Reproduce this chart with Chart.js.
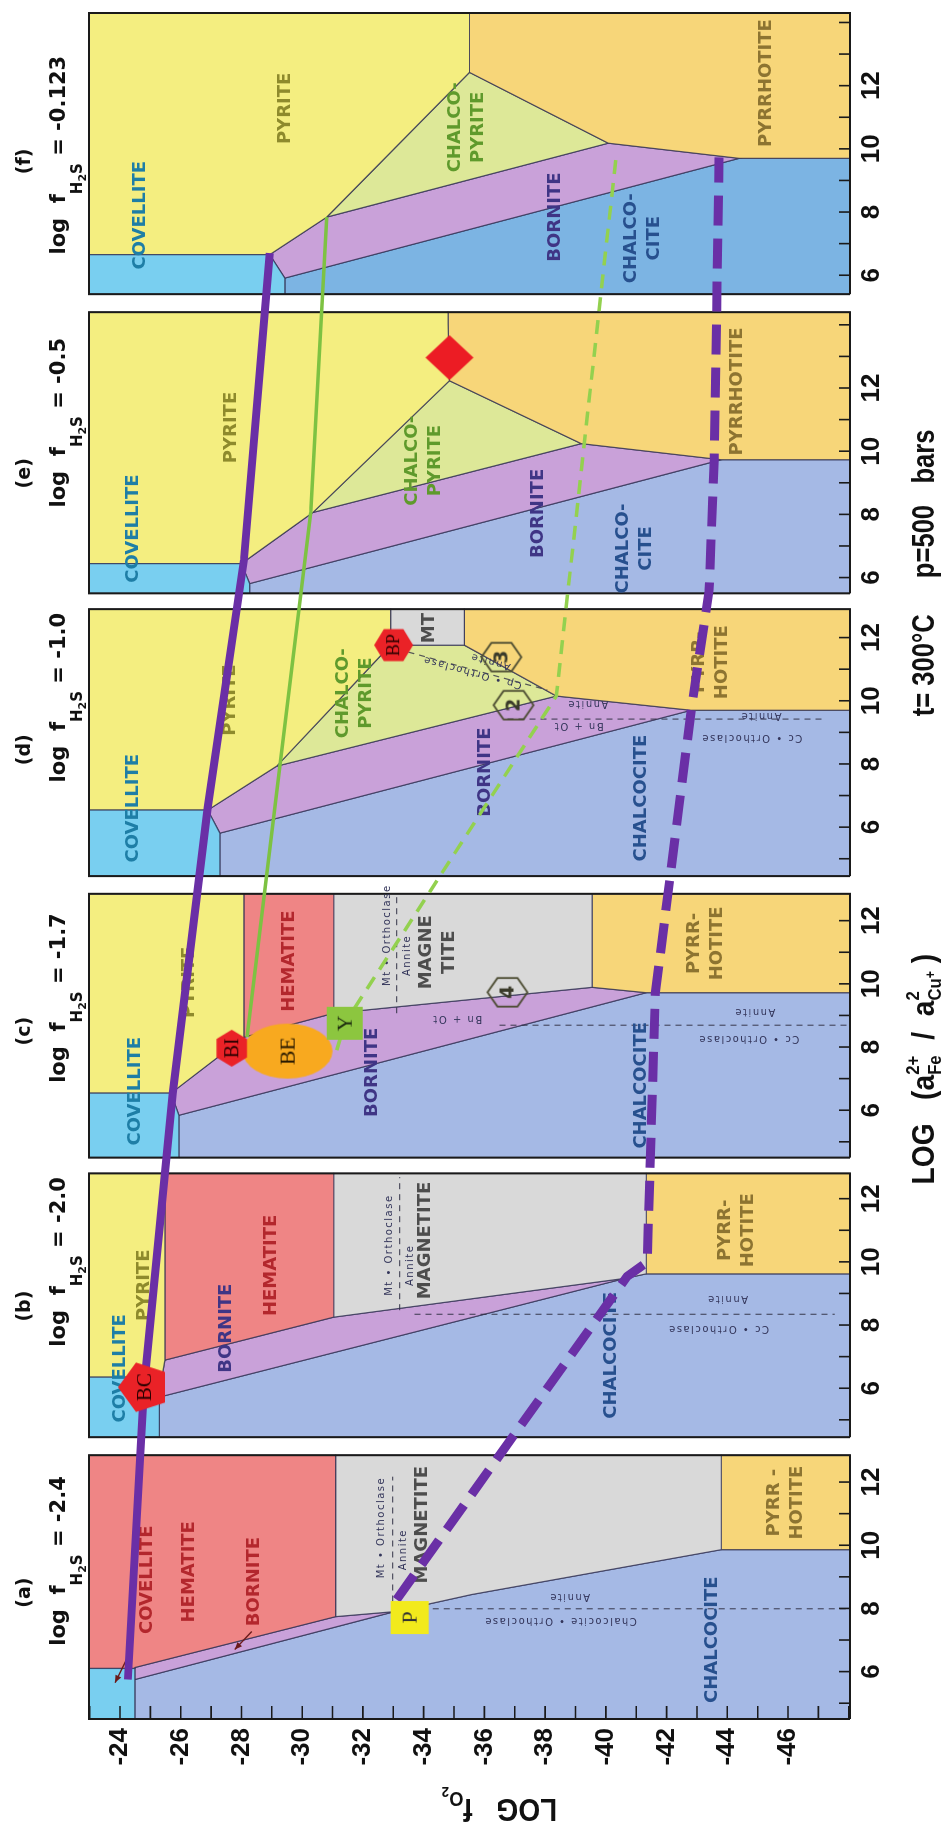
<!DOCTYPE html>
<html>
<head>
<meta charset="utf-8">
<title>Cu-Fe-S-O phase diagrams, t = 300°C</title>
<script src="https://cdn.jsdelivr.net/npm/chart.js@4.4.1/dist/chart.umd.min.js"></script>
<style>
  html, body { margin: 0; padding: 0; background: #fff; }
  body { width: 944px; height: 1828px; overflow: hidden; position: relative; }
  /* the figure is drawn landscape and turned a quarter turn, as in the scan */
  #sheet {
    position: absolute; left: 0; top: 0;
    width: 1828px; height: 944px;
    transform-origin: 0 0;
    transform: translateY(1828px) rotate(-90deg);
  }
</style>
</head>
<body>
<div id="sheet"><canvas id="diagram" width="1828" height="944"></canvas></div>
<script>
'use strict';

/* ============================================================
   data
   x : log (aFe2+ / a2Cu+)   y : log fO2
   ============================================================ */
var PANEL_TAGS = ['(a)', '(b)', '(c)', '(d)', '(e)', '(f)'];
var LOG_FH2S = ['-2.4', '-2.0', '-1.7', '-1.0', '-0.5', '-0.123'];

/* span of log(aFe/aCu2) shown in each panel */
var RATIO_MIN = [4.5, 4.45, 4.5, 4.45, 5.5, 5.4];
var RATIO_MAX = [12.85, 12.8, 12.85, 12.9, 14.4, 14.3];
var RATIO_LABELS = [6, 8, 10, 12];

/* log fO2 axis */
var FO2_MIN = -48.04;
var FO2_MAX = -22.98;
var FO2_LABELS = [-24, -26, -28, -30, -32, -34, -36, -38, -40, -42, -44, -46];

/* stability fields, one polygon per panel (null = field absent) */
var COVELLITE = [
  [[4.5, -22.9], [6.1, -22.9], [6.1, -24.49], [4.5, -24.49]],
  [[4.45, -22.9], [6.35, -22.9], [6.35, -25.38], [5.72, -25.3], [4.45, -25.3]],
  [[4.5, -22.9], [6.54, -22.9], [6.54, -25.68], [5.84, -25.94], [4.5, -25.94]],
  [[4.45, -22.9], [6.54, -22.9], [6.54, -26.89], [5.81, -27.29], [4.45, -27.29]],
  [[5.5, -22.9], [6.44, -22.9], [6.44, -28.0], [5.81, -28.27], [5.5, -28.27]],
  [[5.4, -22.9], [6.65, -22.9], [6.65, -28.93], [5.91, -29.43], [5.4, -29.43]]
];
var PYRITE = [
  null,
  [[6.35, -22.9], [12.8, -22.9], [12.8, -25.48], [6.89, -25.48], [6.35, -25.38]],
  [[6.54, -22.9], [12.85, -22.9], [12.85, -28.08], [8.31, -28.08], [6.54, -25.68]],
  [[6.54, -22.9], [12.9, -22.9], [12.9, -32.91], [11.76, -32.91], [7.93, -29.16], [6.54, -26.89]],
  [[6.44, -22.9], [14.4, -22.9], [14.4, -34.8], [12.23, -34.85], [8.06, -30.35], [6.44, -28.0]],
  [[6.65, -22.9], [14.3, -22.9], [14.3, -35.51], [12.42, -35.51], [7.84, -30.81], [6.65, -28.93]]
];
var HEMATITE = [
  [[6.1, -22.9], [12.85, -22.9], [12.85, -31.1], [7.74, -31.1], [6.13, -24.49], [6.1, -24.49]],
  [[6.89, -25.48], [12.8, -25.48], [12.8, -31.04], [8.25, -31.04]],
  [[8.31, -28.08], [12.85, -28.08], [12.85, -31.04], [9.07, -31.04]],
  null, null, null
];
var MAGNETITE = [
  [[7.74, -31.1], [12.85, -31.1], [12.85, -43.8], [9.86, -43.8], [8.44, -35.58], [7.9, -33.04]],
  [[8.25, -31.04], [12.8, -31.04], [12.8, -41.33], [9.62, -41.33], [9.48, -40.64]],
  [[9.07, -31.04], [12.85, -31.04], [12.85, -39.55], [9.89, -39.55]],
  [[11.76, -32.91], [12.9, -32.91], [12.9, -35.34], [11.76, -35.34]],
  null, null
];
var PYRRHOTITE = [
  [[9.86, -43.8], [12.85, -43.8], [12.85, -48.1], [9.86, -48.1]],
  [[9.62, -41.33], [12.8, -41.33], [12.8, -48.1], [9.62, -48.1]],
  [[9.89, -39.55], [12.85, -39.55], [12.85, -48.1], [9.72, -48.1], [9.72, -41.33]],
  [[11.76, -35.34], [12.9, -35.34], [12.9, -48.1], [9.7, -48.1], [9.7, -42.81], [10.15, -38.37]],
  [[12.23, -34.85], [14.4, -34.8], [14.4, -48.1], [9.73, -48.1], [9.73, -43.8], [10.24, -39.19]],
  [[12.42, -35.51], [14.3, -35.51], [14.3, -48.1], [9.7, -48.1], [9.7, -44.39], [10.18, -40.08]]
];
var CHALCOPYRITE = [
  null, null, null,
  [[7.93, -29.16], [11.76, -32.91], [11.76, -35.34], [10.15, -38.37]],
  [[8.06, -30.35], [12.23, -34.85], [10.24, -39.19]],
  [[7.84, -30.81], [12.42, -35.51], [10.18, -40.08]]
];
var BORNITE = [
  [[5.75, -24.49], [6.13, -24.49], [7.74, -31.1], [7.9, -33.04]],
  [[5.72, -25.3], [6.35, -25.38], [6.89, -25.48], [8.25, -31.04], [9.48, -40.64]],
  [[5.84, -25.94], [6.54, -25.68], [8.31, -28.08], [9.07, -31.04], [9.89, -39.55], [9.72, -41.33]],
  [[5.81, -27.29], [6.54, -26.89], [7.93, -29.16], [10.15, -38.37], [9.7, -42.81]],
  [[5.81, -28.27], [6.44, -28.0], [8.06, -30.35], [10.24, -39.19], [9.73, -43.8]],
  [[5.91, -29.43], [6.65, -28.93], [7.84, -30.81], [10.18, -40.08], [9.7, -44.39]]
];
var CHALCOCITE = [
  [[4.5, -24.49], [5.75, -24.49], [7.9, -33.04], [8.44, -35.58], [9.86, -43.8], [9.86, -48.1], [4.5, -48.1]],
  [[4.45, -25.3], [5.72, -25.3], [9.48, -40.64], [9.62, -41.33], [9.62, -48.1], [4.45, -48.1]],
  [[4.5, -25.94], [5.84, -25.94], [9.72, -41.33], [9.72, -48.1], [4.5, -48.1]],
  [[4.45, -27.29], [5.81, -27.29], [9.7, -42.81], [9.7, -48.1], [4.45, -48.1]],
  [[5.5, -28.27], [5.81, -28.27], [9.73, -43.8], [9.73, -48.1], [5.5, -48.1]],
  [[5.4, -29.43], [5.91, -29.43], [9.7, -44.39], [9.7, -48.1], [5.4, -48.1]]
];

/* paths traced across the panels: [panel, ratio, log fO2] */
var PATH_PURPLE = [[0, 5.75, -24.26], [1, 6.03, -24.79], [2, 6.54, -25.74], [3, 6.63, -26.89], [4, 6.54, -28.08], [5, 6.70, -28.93]];
var PATH_PURPLE_DASHED = [[0, 8.28, -33.11], [1, 9.54, -40.70], [1, 9.99, -41.36], [2, 9.70, -41.63], [3, 9.70, -42.81], [4, 5.59, -43.40], [4, 9.73, -43.57], [5, 9.73, -43.73]];
var PATH_GREEN = [[2, 8.31, -28.18], [3, 7.90, -29.26], [4, 8.06, -30.28], [5, 7.84, -30.81]];
var PATH_GREEN_DASHED = [[2, 7.90, -31.14], [2, 8.75, -31.40], [3, 10.15, -38.37], [4, 10.24, -39.29], [5, 9.77, -40.34]];

/* thin dashed reaction lines: [panel, ratio1, fO2 1, ratio2, fO2 2] */
var REACTION_LINES = [
  [0, 8.22, -32.98, 12.17, -32.98],
  [0, 7.99, -34.3, 7.99, -48.1],
  [1, 8.47, -33.21, 12.68, -33.21],
  [1, 8.34, -33.7, 8.34, -47.54],
  [2, 9.07, -33.11, 12.87, -33.11],
  [2, 8.69, -36.5, 8.69, -48.1],
  [3, 11.54, -33.5, 10.34, -38.07],
  [3, 9.42, -36.76, 9.42, -47.15]
];

/* symbols: [panel, ratio, log fO2] */
var MARK_P = [0, 7.71, -33.54];
var MARK_BC = [1, 6.03, -24.79];
var MARK_BI = [2, 7.96, -27.68];
var MARK_BE = [2, 7.87, -29.52];
var MARK_Y = [2, 8.75, -31.40];
var MARK_BP = [3, 11.76, -33.01];
var MARK_DIAMOND = [4, 12.96, -34.85];
var MARK_NUMBERS = [[2, 9.73, -36.76, '4'], [3, 9.86, -36.96, '2'], [3, 11.38, -36.56, '3']];

/* field names: [panel, ratio, log fO2, lines, field] */
var FIELD_LABELS = [
  [0, 8.91, -24.89, ['COVELLITE'], 'HM'],
  [0, 9.16, -26.30, ['HEMATITE'], 'HM'],
  [0, 8.85, -28.41, ['BORNITE'], 'HM'],
  [0, 10.65, -33.96, ['MAGNETITE'], 'MT'],
  [0, 7.01, -43.5, ['CHALCOCITE'], 'CC'],
  [0, 11.35, -45.93, ['PYRR -', 'HOTITE'], 'PO'],
  [1, 6.63, -24.0, ['COVELLITE'], 'COV'],
  [1, 9.26, -24.79, ['PYRITE'], 'PY'],
  [1, 7.9, -27.49, ['BORNITE'], 'BN'],
  [1, 9.89, -28.97, ['HEMATITE'], 'HM'],
  [1, 10.68, -34.06, ['MAGNETITE'], 'MT'],
  [1, 7.04, -40.18, ['CHALCOCITE'], 'CC'],
  [1, 11.0, -44.32, ['PYRR-', 'HOTITE'], 'PO'],
  [2, 6.6, -24.49, ['COVELLITE'], 'COV'],
  [2, 10.05, -26.30, ['PYRITE'], 'PY'],
  [2, 10.72, -29.59, ['HEMATITE'], 'HM'],
  [2, 11.0, -34.46, ['MAGNE', 'TITE'], 'MT'],
  [2, 7.2, -32.32, ['BORNITE'], 'BN'],
  [2, 6.79, -41.17, ['CHALCOCITE'], 'CC'],
  [2, 11.28, -43.3, ['PYRR-', 'HOTITE'], 'PO'],
  [3, 6.6, -24.43, ['COVELLITE'], 'COV'],
  [3, 10.02, -27.62, ['PYRITE'], 'PY'],
  [3, 10.24, -31.73, ['CHALCO-', 'PYRITE'], 'CP'],
  [3, 12.30, -34.19, ['MT'], 'MT'],
  [3, 7.74, -36.04, ['BORNITE'], 'BN'],
  [3, 6.92, -41.17, ['CHALCOCITE'], 'CC'],
  [3, 11.22, -43.47, ['PYRR-', 'HOTITE'], 'PO'],
  [4, 7.55, -24.43, ['COVELLITE'], 'COV'],
  [4, 10.75, -27.68, ['PYRITE'], 'PY'],
  [4, 9.70, -34.0, ['CHALCO-', 'PYRITE'], 'CP'],
  [4, 8.03, -37.78, ['BORNITE'], 'BN'],
  [4, 6.92, -40.97, ['CHALCO-', 'CITE'], 'CC'],
  [4, 11.89, -44.32, ['PYRRHOTITE'], 'PO'],
  [5, 7.90, -24.66, ['COVELLITE'], 'COV'],
  [5, 11.28, -29.43, ['PYRITE'], 'PY'],
  [5, 10.68, -35.43, ['CHALCO-', 'PYRITE'], 'CP'],
  [5, 7.84, -38.34, ['BORNITE'], 'BN'],
  [5, 7.17, -41.23, ['CHALCO-', 'CITE'], 'CC'],
  [5, 12.08, -45.28, ['PYRRHOTITE'], 'PO']
];

/* small reaction names: [panel, ratio, log fO2, text, angle] */
var REACTION_LABELS = [
  [0, 10.56, -32.62, 'Mt • Orthoclase', 0],
  [0, 9.86, -33.32, 'Annite', 0],
  [0, 7.6, -38.5, 'Chalcocite • Orthoclase', -90],
  [0, 8.37, -38.8, 'Annite', -90],
  [1, 10.53, -32.86, 'Mt • Orthoclase', 0],
  [1, 9.89, -33.56, 'Annite', 0],
  [1, 7.9, -43.7, 'Cc • Orthoclase', -90],
  [1, 8.85, -44.0, 'Annite', -90],
  [2, 11.54, -32.8, 'Mt • Orthoclase', 0],
  [2, 10.9, -33.46, 'Annite', 0],
  [2, 8.9, -35.1, 'Bn + Ot', -90],
  [2, 8.28, -44.7, 'Cc • Orthoclase', -90],
  [2, 9.13, -44.9, 'Annite', -90],
  [3, 10.9, -35.6, 'Cp • Orthoclase', -75],
  [3, 11.25, -36.2, 'Annite', -75],
  [3, 9.2, -39.1, 'Bn + Ot', -90],
  [3, 9.9, -39.4, 'Annite', -90],
  [3, 8.85, -44.8, 'Cc • Orthoclase', -90],
  [3, 9.54, -45.1, 'Annite', -90]
];

/* pointer arrows in panel (a): [panel, from ratio, from fO2, to ratio, to fO2] */
var POINTER_ARROWS = [
  [0, 6.6, -24.33, 5.65, -23.84],
  [0, 7.27, -28.34, 6.7, -27.78]
];

/* where the panel titles sit, in each panel's own ratio units */
var TAG_AT = [8.5, 8.6, 8.5, 8.45, 9.3, 9.6];
var TITLE_AT = [9.5, 10.0, 9.55, 10.1, 10.9, 9.8];

/* ============================================================
   layout: the six panels share one horizontal scale
   ============================================================ */
var PANEL_SHIFT = [-4.5, 4.47, 13.27, 22.23, 30.13, 39.7];
var X_SPAN = RATIO_MAX[5] + PANEL_SHIFT[5];

var SANS = '"DejaVu Sans", "Liberation Sans", sans-serif';
var BLOCK = '"Liberation Sans", "DejaVu Sans", sans-serif';
var SERIF = '"Liberation Serif", "DejaVu Serif", serif';

var FIELD_STYLE = {
  COV: { fill: '#79cff0', ink: '#1e7ea6' },
  PY:  { fill: '#f4ee80', ink: '#8e8a2c' },
  HM:  { fill: '#ef8585', ink: '#b3272d' },
  MT:  { fill: '#d9d9d9', ink: '#4d4d4d' },
  PO:  { fill: '#f7d679', ink: '#8d7431' },
  CP:  { fill: '#dde898', ink: '#5f9a2c' },
  BN:  { fill: '#c9a1d9', ink: '#3f3585' },
  CC:  { fill: '#a5b9e5', ink: '#27508e' }
};
var CHALCOCITE_F = '#7cb4e3';

var FIELDS = [
  ['COV', COVELLITE], ['PY', PYRITE], ['HM', HEMATITE], ['MT', MAGNETITE],
  ['PO', PYRRHOTITE], ['CP', CHALCOPYRITE], ['BN', BORNITE], ['CC', CHALCOCITE]
];

function toXY(p, v, f) { return { x: v + PANEL_SHIFT[p], y: f }; }

function pathData(path) {
  return path.map(function (pt) { return toXY(pt[0], pt[1], pt[2]); });
}

/* offscreen canvas used as a point style for the lettered symbols */
function badge(shape, w, h, fill, stroke, text, font, ink) {
  var c = document.createElement('canvas');
  c.width = w + 4;
  c.height = h + 4;
  var g = c.getContext('2d');
  var cx = c.width / 2, cy = c.height / 2, rx = w / 2, ry = h / 2;
  g.beginPath();
  if (shape === 'rect') {
    g.rect(cx - rx, cy - ry, w, h);
  } else if (shape === 'ellipse') {
    g.ellipse(cx, cy, rx, ry, 0, 0, Math.PI * 2);
  } else {
    var n = { pent: 5, hexV: 6, hexH: 6, diamond: 4 }[shape];
    var a0 = shape === 'hexH' ? 0 : -Math.PI / 2;
    for (var k = 0; k < n; k++) {
      var a = a0 + k * 2 * Math.PI / n;
      g.lineTo(cx + rx * Math.cos(a), cy + ry * Math.sin(a));
    }
    g.closePath();
  }
  if (fill) { g.fillStyle = fill; g.fill(); }
  if (stroke) { g.strokeStyle = stroke; g.lineWidth = 1.8; g.stroke(); }
  if (text) {
    g.fillStyle = ink;
    g.font = font;
    g.textAlign = 'center';
    g.textBaseline = 'middle';
    g.fillText(text, cx, cy + 1);
  }
  return c;
}

/* ---------- ticks ---------- */
var X_TICKS = [];
RATIO_MIN.forEach(function (lo, p) {
  for (var v = Math.ceil(lo); v <= RATIO_MAX[p]; v++) {
    X_TICKS.push({ value: v + PANEL_SHIFT[p], label: RATIO_LABELS.indexOf(v) >= 0 ? String(v) : '' });
  }
});
var FO2_TICKS = [];
for (var t = Math.ceil(FO2_MIN); t <= FO2_MAX; t++) FO2_TICKS.push(t);

/* ---------- datasets ---------- */
var datasets = [];

FIELDS.forEach(function (field) {
  field[1].forEach(function (poly, p) {
    if (!poly) return;
    var fill = (field[0] === 'CC' && p === 5) ? CHALCOCITE_F : FIELD_STYLE[field[0]].fill;
    datasets.push({
      data: poly.concat([poly[0]]).map(function (pt) { return toXY(p, pt[0], pt[1]); }),
      showLine: true,
      fill: 'shape',
      backgroundColor: fill,
      borderColor: 'rgba(45,45,80,0.75)',
      borderWidth: 1.2,
      pointRadius: 0,
      order: 10
    });
  });
});

/* panel frames */
RATIO_MIN.forEach(function (lo, p) {
  var hi = RATIO_MAX[p];
  datasets.push({
    data: [[lo, FO2_MIN], [hi, FO2_MIN], [hi, FO2_MAX], [lo, FO2_MAX], [lo, FO2_MIN]]
      .map(function (pt) { return toXY(p, pt[0], pt[1]); }),
    showLine: true,
    fill: false,
    borderColor: '#1a1a1a',
    borderWidth: 2,
    pointRadius: 0,
    clip: false,
    order: 8
  });
});

REACTION_LINES.forEach(function (r) {
  datasets.push({
    data: [toXY(r[0], r[1], r[2]), toXY(r[0], r[3], r[4])],
    showLine: true,
    fill: false,
    borderColor: 'rgba(50,50,70,0.8)',
    borderWidth: 1.2,
    borderDash: [6, 5],
    pointRadius: 0,
    order: 7
  });
});

/* empty layer: field names are painted right after it */
datasets.push({ data: [], labelLayer: true, order: 6 });

datasets.push({ data: pathData(PATH_GREEN), showLine: true, borderColor: '#7dc242', borderWidth: 3.5, pointRadius: 0, order: 3 });
datasets.push({ data: pathData(PATH_GREEN_DASHED), showLine: true, borderColor: '#93d14f', borderWidth: 3.5, borderDash: [14, 9], pointRadius: 0, order: 3 });
datasets.push({ data: pathData(PATH_PURPLE), showLine: true, borderColor: '#6a2fa6', borderWidth: 8, pointRadius: 0, order: 3 });
datasets.push({ data: pathData(PATH_PURPLE_DASHED), showLine: true, borderColor: '#6a2fa6', borderWidth: 9, borderDash: [30, 13], pointRadius: 0, order: 3 });

function markerSet(pos, style, order) {
  return { data: [toXY(pos[0], pos[1], pos[2])], pointStyle: style, pointRadius: 12, order: order };
}
datasets.push(markerSet(MARK_BE, badge('ellipse', 55, 90, '#f8a91f', null, 'BE', '22px ' + SERIF, '#2a1a00'), 2));
datasets.push(markerSet(MARK_P, badge('rect', 33, 38, '#f2ea1c', null, 'P', '22px ' + SERIF, '#333'), 1));
datasets.push(markerSet(MARK_BC, badge('pent', 52, 52, '#ea2227', null, 'BC', '21px ' + SERIF, '#2a0000'), 1));
datasets.push(markerSet(MARK_BI, badge('hexH', 37, 35, '#ea2227', null, 'BI', '20px ' + SERIF, '#2a0000'), 1));
datasets.push(markerSet(MARK_Y, badge('rect', 33, 36, '#8cc63f', null, 'Y', '22px ' + SERIF, '#1f2f10'), 1));
datasets.push(markerSet(MARK_BP, badge('hexV', 37, 39, '#ea2227', null, 'BP', '18px ' + SERIF, '#2a0000'), 1));
datasets.push(markerSet(MARK_DIAMOND, badge('diamond', 45, 48, '#ec1c24', null, '', '', ''), 1));
MARK_NUMBERS.forEach(function (m) {
  datasets.push(markerSet(m, badge('hexV', 33, 40, null, '#4a4a30', m[3], 'bold 19px ' + SANS, '#3a3a2a'), 1));
});

/* ---------- drawing helpers ---------- */
function toPx(chart, p, v, f) {
  return {
    x: chart.scales.x.getPixelForValue(v + PANEL_SHIFT[p]),
    y: chart.scales.y.getPixelForValue(f)
  };
}

/* runs of text on one baseline; runs with adv:false are stacked over the next run.
   squeeze < 1 narrows the lettering horizontally */
function drawRuns(ctx, runs, x, y, align, squeeze) {
  var k = squeeze || 1;
  var width = 0;
  runs.forEach(function (r) {
    ctx.font = r.font;
    r.w = ctx.measureText(r.t).width * k;
    if (r.adv !== false) width += r.w;
  });
  var cx = align === 'left' ? x : x - width / 2;
  ctx.textAlign = 'left';
  runs.forEach(function (r) {
    ctx.font = r.font;
    ctx.save();
    ctx.translate(cx, y + (r.dy || 0));
    ctx.scale(k, 1);
    ctx.fillText(r.t, 0, 0);
    ctx.restore();
    if (r.adv !== false) cx += r.w;
  });
}

function drawFieldText(chart) {
  var ctx = chart.ctx;
  ctx.save();
  ctx.textAlign = 'center';
  ctx.textBaseline = 'middle';
  ctx.font = 'bold 18px ' + SANS;
  FIELD_LABELS.forEach(function (l) {
    var pt = toPx(chart, l[0], l[1], l[2]);
    var lines = l[3];
    ctx.fillStyle = FIELD_STYLE[l[4]].ink;
    lines.forEach(function (s, i) {
      ctx.fillText(s, pt.x, pt.y + (i - (lines.length - 1) / 2) * 23);
    });
  });

  ctx.font = '10px ' + SANS;
  ctx.letterSpacing = '1.5px';
  ctx.fillStyle = '#33355a';
  REACTION_LABELS.forEach(function (l) {
    var pt = toPx(chart, l[0], l[1], l[2]);
    ctx.save();
    ctx.translate(pt.x, pt.y);
    ctx.rotate(l[4] * Math.PI / 180);
    ctx.fillText(l[3], 0, 0);
    ctx.restore();
  });
  ctx.letterSpacing = '0px';

  ctx.strokeStyle = '#6b1b1b';
  ctx.fillStyle = '#6b1b1b';
  ctx.lineWidth = 1.4;
  POINTER_ARROWS.forEach(function (a) {
    var s = toPx(chart, a[0], a[1], a[2]);
    var e = toPx(chart, a[0], a[3], a[4]);
    ctx.beginPath();
    ctx.moveTo(s.x, s.y);
    ctx.lineTo(e.x, e.y);
    ctx.stroke();
    var ang = Math.atan2(e.y - s.y, e.x - s.x);
    ctx.beginPath();
    ctx.moveTo(e.x, e.y);
    ctx.lineTo(e.x - 8 * Math.cos(ang - 0.4), e.y - 8 * Math.sin(ang - 0.4));
    ctx.lineTo(e.x - 8 * Math.cos(ang + 0.4), e.y - 8 * Math.sin(ang + 0.4));
    ctx.closePath();
    ctx.fill();
  });
  ctx.restore();
}

function drawInsideTicks(chart) {
  var ctx = chart.ctx, a = chart.chartArea, xs = chart.scales.x, ys = chart.scales.y;
  ctx.save();
  ctx.strokeStyle = '#1a1a1a';
  ctx.lineWidth = 1.6;
  ctx.beginPath();
  X_TICKS.forEach(function (tk) {
    var x = xs.getPixelForValue(tk.value);
    ctx.moveTo(x, a.bottom);
    ctx.lineTo(x, a.bottom - 11);
  });
  FO2_TICKS.forEach(function (v) {
    var y = ys.getPixelForValue(v);
    ctx.moveTo(a.left, y);
    ctx.lineTo(a.left + 13, y);
  });
  ctx.stroke();
  ctx.restore();
}

function drawTitles(chart) {
  var ctx = chart.ctx, a = chart.chartArea, xs = chart.scales.x, ys = chart.scales.y;
  ctx.save();
  ctx.fillStyle = '#111';
  ctx.textBaseline = 'alphabetic';

  PANEL_TAGS.forEach(function (tag, p) {
    ctx.font = 'bold 19px ' + SANS;
    ctx.textAlign = 'center';
    ctx.fillText(tag, xs.getPixelForValue(TAG_AT[p] + PANEL_SHIFT[p]), a.top - 59);
    drawRuns(ctx, [
      { t: 'log  f', font: 'bold 21px ' + SANS },
      { t: 'H', font: 'bold 15px ' + SANS, dy: 17 },
      { t: '2', font: 'bold 11px ' + SANS, dy: 21 },
      { t: 'S', font: 'bold 15px ' + SANS, dy: 17 },
      { t: ' = ' + LOG_FH2S[p], font: 'bold 21px ' + SANS }
    ], xs.getPixelForValue(TITLE_AT[p] + PANEL_SHIFT[p]), a.top - 24);
  });

  /* log fO2 axis title, reading upward */
  ctx.save();
  ctx.translate(a.left - 80, ys.getPixelForValue(-36.5));
  ctx.rotate(-Math.PI / 2);
  drawRuns(ctx, [
    { t: 'LOG   f', font: 'bold 32px ' + BLOCK },
    { t: 'O', font: 'bold 21px ' + BLOCK, dy: 7 },
    { t: '2', font: 'bold 15px ' + BLOCK, dy: 12 }
  ], 0, 0, 'center', 0.88);
  ctx.restore();

  /* ratio axis title and run conditions */
  var base = a.bottom + 84;
  drawRuns(ctx, [
    { t: 'LOG   (a', font: 'bold 32px ' + BLOCK },
    { t: '2+', font: 'bold 19px ' + BLOCK, dy: -15, adv: false },
    { t: 'Fe', font: 'bold 19px ' + BLOCK, dy: 7 },
    { t: '  /  a', font: 'bold 32px ' + BLOCK },
    { t: '2', font: 'bold 19px ' + BLOCK, dy: -15, adv: false },
    { t: 'Cu', font: 'bold 19px ' + BLOCK, dy: 7 },
    { t: '+', font: 'bold 14px ' + BLOCK, dy: 1 },
    { t: ' )', font: 'bold 32px ' + BLOCK }
  ], toPx(chart, 2, 7.3, 0).x, base, 'center', 0.88);

  drawRuns(ctx, [{ t: 't= 300°C', font: 'bold 32px ' + BLOCK }], toPx(chart, 3, 9.51, 0).x, base, 'left', 0.8);
  drawRuns(ctx, [{ t: 'p=500   bars', font: 'bold 32px ' + BLOCK }], toPx(chart, 4, 5.98, 0).x, base, 'left', 0.8);
  ctx.restore();
}

var overlay = {
  id: 'overlay',
  afterDatasetDraw: function (chart, args) {
    var ds = chart.data.datasets[args.index];
    if (ds && ds.labelLayer) drawFieldText(chart);
  },
  afterDraw: function (chart) {
    drawInsideTicks(chart);
    drawTitles(chart);
  }
};

var TICK_FONT = { family: BLOCK, weight: 'bold', size: 26 };

new Chart(document.getElementById('diagram'), {
  type: 'scatter',
  data: { datasets: datasets },
  options: {
    responsive: false,
    animation: false,
    events: [],
    layout: { padding: { left: 0, right: 12, top: 89, bottom: 0 } },
    plugins: { legend: { display: false }, tooltip: { enabled: false } },
    scales: {
      x: {
        type: 'linear',
        min: 0,
        max: X_SPAN,
        grid: { display: false, drawTicks: false },
        border: { display: false },
        afterBuildTicks: function (scale) {
          scale.ticks = X_TICKS.map(function (tk) { return { value: tk.value }; });
        },
        afterFit: function (scale) { scale.height = 94; },
        ticks: {
          autoSkip: false,
          maxRotation: 0,
          minRotation: 0,
          padding: 6,
          color: '#111',
          font: TICK_FONT,
          callback: function (val, i) { return X_TICKS[i] ? X_TICKS[i].label : ''; }
        }
      },
      y: {
        type: 'linear',
        min: FO2_MIN,
        max: FO2_MAX,
        grid: { display: false, drawTicks: false },
        border: { display: false },
        afterBuildTicks: function (scale) {
          scale.ticks = FO2_TICKS.map(function (v) { return { value: v }; });
        },
        afterFit: function (scale) { scale.width = 109; },
        ticks: {
          autoSkip: false,
          padding: 9,
          color: '#111',
          font: TICK_FONT,
          callback: function (val) { return FO2_LABELS.indexOf(val) >= 0 ? '-' + Math.abs(val) : ''; }
        }
      }
    }
  },
  plugins: [overlay]
});
</script>
</body>
</html>
